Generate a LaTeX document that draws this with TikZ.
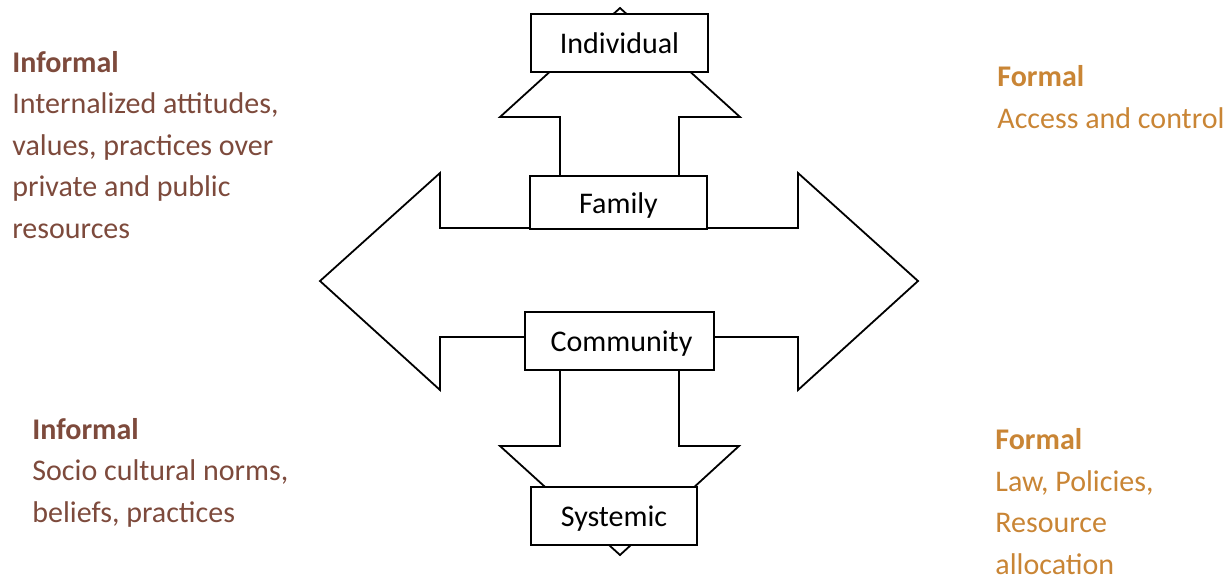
\documentclass[tikz,border=0pt]{standalone}
\usepackage{fontspec}
\setmainfont{Carlito}
\definecolor{informal}{RGB}{125,74,60}
\definecolor{formal}{RGB}{201,133,53}
\tikzset{
  level/.style={draw, fill=white, line width=.9pt, inner sep=0pt,
    text height=12pt, text depth=1.5pt, font=\fontsize{15}{18}\selectfont},
  blockarrow/.style={draw, fill=white, line width=.9pt, line join=miter},
  note/.style={align=left, anchor=base west, inner sep=0pt,
    font=\fontsize{15}{20.75}\selectfont}
}

\begin{document}
\begin{tikzpicture}[x=.5pt,y=-.5pt]
  \useasboundingbox (0,0) rectangle (1231,580);
  % the three arrows, drawn first so the boxes sit on them
  \draw[blockarrow] (440,228) -- (440,173) -- (320,281) -- (440,390) -- (440,337)
    -- (798,337) -- (798,390) -- (918,281) -- (798,173) -- (798,228) -- cycle;
  \draw[blockarrow] (560,200) -- (560,117) -- (500,117) -- (620,8) -- (740,117)
    -- (679,117) -- (679,200) -- cycle;
  \draw[blockarrow] (560,345) -- (560,446) -- (500,446) -- (620,555) -- (739,446)
    -- (679,446) -- (679,345) -- cycle;
  % levels
  \node[level, minimum width=88.5pt, minimum height=29pt] (ind) at (619.5,43) {Individual};
  \node[level, minimum width=88.5pt, minimum height=26.5pt] (fam) at (618.5,202.5) {Family};
  \node[level, minimum width=94.5pt, minimum height=29pt] (com) at (619.5,341) {\hspace{2pt}Community};
  \node[level, minimum width=83pt, minimum height=29pt] (sys) at (614,516) {Systemic};
  % side notes (anchored at the baseline of their last line)
  \node[note, text=informal] (infA) at (12,238)
    {\textbf{Informal}\\Internalized attitudes,\\values, practices over\\private and public\\resources};
  \node[note, text=formal] (forA) at (997,128)
    {\textbf{Formal}\\Access and control};
  \node[note, text=informal] (infB) at (32,522)
    {\textbf{Informal}\\Socio cultural norms,\\beliefs, practices};
  \node[note, text=formal] (forB) at (995,574)
    {\textbf{Formal}\\Law, Policies,\\Resource\\allocation};
\end{tikzpicture}
\end{document}
